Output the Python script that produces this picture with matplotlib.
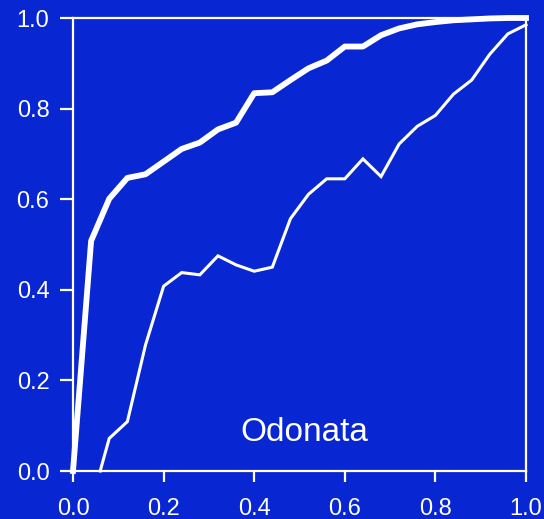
import matplotlib
matplotlib.use("Agg")
import matplotlib.pyplot as plt

plt.rcParams['font.family'] = ['Liberation Sans', 'DejaVu Sans']

bg = '#0826d2'

thick_x = [0.00, 0.04, 0.08, 0.12, 0.16, 0.20, 0.24, 0.28, 0.32, 0.36, 0.40, 0.44, 0.48,
           0.52, 0.56, 0.60, 0.64, 0.68, 0.72, 0.76, 0.80, 0.84, 0.88, 0.92, 0.96, 1.00]
thick_y = [0.000, 0.508, 0.601, 0.647, 0.655, 0.683, 0.711, 0.725, 0.754, 0.769, 0.834, 0.836, 0.863,
           0.889, 0.906, 0.937, 0.937, 0.962, 0.977, 0.986, 0.991, 0.995, 0.997, 0.999, 1.000, 1.000]

thin_x = [0.06, 0.08, 0.12, 0.16, 0.20, 0.24, 0.28, 0.32, 0.36, 0.40, 0.44, 0.48,
          0.52, 0.56, 0.60, 0.64, 0.68, 0.72, 0.76, 0.80, 0.84, 0.88, 0.92, 0.96, 1.00]
thin_y = [0.000, 0.072, 0.109, 0.278, 0.408, 0.438, 0.433, 0.475, 0.455, 0.441, 0.450, 0.557,
          0.611, 0.645, 0.645, 0.689, 0.650, 0.722, 0.761, 0.785, 0.832, 0.863, 0.920, 0.965, 0.985]

ticks = [0.0, 0.2, 0.4, 0.6, 0.8, 1.0]
tick_labels = ['0.0', '0.2', '0.4', '0.6', '0.8', '1.0']
label_text = 'Odonata'

fig = plt.figure(figsize=(5.44, 5.19), dpi=100)
fig.patch.set_facecolor(bg)
ax = fig.add_axes([73/544, 48/519, 453/544, 453/519])
ax.set_facecolor(bg)

ax.plot(thin_x, thin_y, color='white', lw=2.2, clip_on=False, solid_joinstyle='miter')
ax.plot(thick_x, thick_y, color='white', lw=4.2, clip_on=False, solid_joinstyle='round')

ax.set_xlim(0, 1)
ax.set_ylim(0, 1)
ax.set_xticks(ticks)
ax.set_xticklabels(tick_labels)
ax.set_yticks(ticks)
ax.set_yticklabels(tick_labels)
for s in ax.spines.values():
    s.set_color('white')
    s.set_linewidth(1.6)
ax.tick_params(axis='both', colors='white', labelcolor='white', labelsize=17,
               width=1.6, direction='out')
ax.tick_params(axis='y', length=9.5, pad=7.5)
ax.tick_params(axis='x', length=8, pad=11.5)

ax.text(0.51, 0.066, label_text, color='white', fontsize=24, ha='center', va='baseline')

fig.savefig('out.png', dpi=100, facecolor=bg)
